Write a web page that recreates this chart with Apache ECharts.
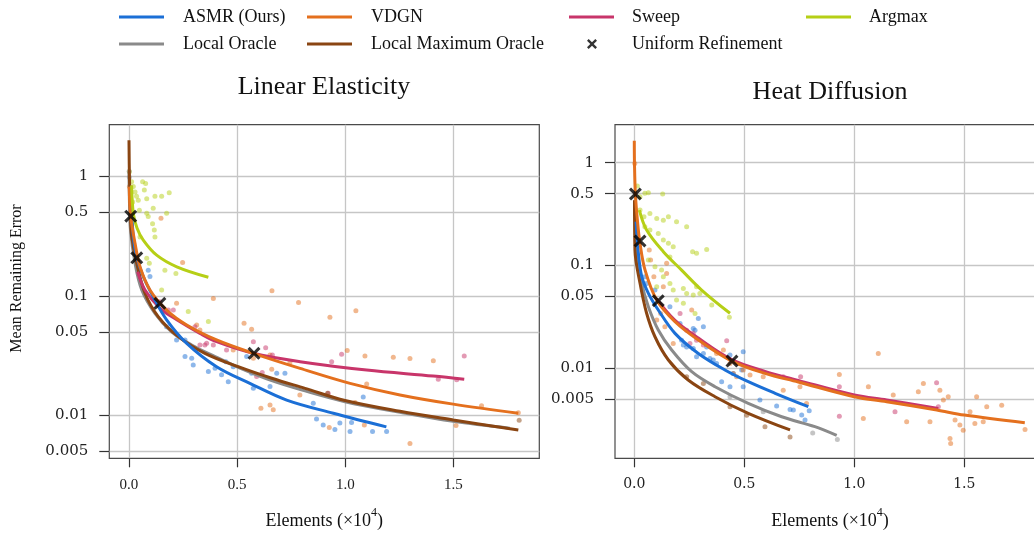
<!DOCTYPE html>
<html><head><meta charset="utf-8">
<script src="https://cdn.jsdelivr.net/npm/echarts@6/dist/echarts.min.js"></script>
<style>html,body{margin:0;padding:0;background:#fff}#c{width:1034px;height:533px}</style>
</head><body><div id="c"></div>
<script>
// ---------- tick labels ----------
const yTickValues = [1, 0.5, 0.1, 0.05, 0.01, 0.005];
const yTickLabels = ['1', '0.5', '0.1', '0.05', '0.01', '0.005'];
const xTickValues = [0, 0.5, 1.0, 1.5];
const xTickLabels = ['0.0', '0.5', '1.0', '1.5'];
const methods = ['ASMR (Ours)', 'VDGN', 'Sweep', 'Argmax', 'Local Oracle', 'Local Maximum Oracle'];
const titles = ['Linear Elasticity', 'Heat Diffusion'];

// ---------- Linear Elasticity: mean curves [elements (x1e4), mean remaining error] ----------
const le_asmr = [[0.008,0.82],[0.02,0.31],[0.036,0.21],[0.066,0.145],[0.112,0.098],[0.174,0.063],[0.267,0.040],[0.405,0.0255],[0.559,0.0185],[0.729,0.0134],[0.945,0.0104],[1.19,0.0080]];
const le_vdgn = [[0.001,0.82],[0.008,0.465],[0.028,0.275],[0.051,0.175],[0.097,0.112],[0.174,0.076],[0.267,0.057],[0.405,0.0427],[0.575,0.033],[0.791,0.0247],[1.022,0.0185],[1.253,0.0148],[1.499,0.0124],[1.80,0.0104]];
const le_sweep = [[0.040,0.159],[0.074,0.112],[0.143,0.079],[0.221,0.063],[0.328,0.0485],[0.405,0.0413],[0.575,0.033],[0.791,0.0281],[1.099,0.0239],[1.407,0.0213],[1.55,0.0200]];
const le_argmax = [[0.012,0.84],[0.02,0.49],[0.037,0.37],[0.066,0.293],[0.128,0.219],[0.221,0.175],[0.367,0.143]];
const le_lo = [[0.0,1.1],[0.002,0.63],[0.007,0.356],[0.028,0.187],[0.059,0.112],[0.12,0.0714],[0.197,0.05],[0.29,0.0388],[0.398,0.031],[0.505,0.0252],[0.66,0.0195],[0.814,0.0160],[0.999,0.0130],[1.253,0.0106],[1.499,0.0089],[1.76,0.0078]];
const le_lmo = [[0.0,2.0],[0.002,1.0],[0.007,0.47],[0.012,0.32],[0.036,0.187],[0.074,0.105],[0.135,0.067],[0.228,0.0455],[0.351,0.033],[0.505,0.0255],[0.66,0.0204],[0.814,0.0168],[0.999,0.0133],[1.253,0.0108],[1.499,0.00914],[1.80,0.00753]];
const le_uniform = [[0.008,0.464],[0.036,0.208],[0.143,0.0865],[0.578,0.033]];

// ---------- Linear Elasticity: individual runs ----------
const le_asmr_runs = [[0.089,0.164],[0.097,0.145],[0.174,0.0552],[0.259,0.0427],[0.259,0.031],[0.297,0.0264],[0.29,0.030],[0.367,0.0232],[0.398,0.0247],[0.428,0.0218],[0.459,0.0191],[0.448,0.0281],[0.482,0.0255],[0.544,0.031],[0.567,0.0225],[0.683,0.0225],[0.721,0.0225],[0.652,0.0174],[0.852,0.0126],[0.867,0.0093],[0.898,0.0083],[0.952,0.0076],[0.975,0.0086],[1.022,0.0073],[1.029,0.0087],[1.083,0.0142],[1.126,0.0073],[1.191,0.0073],[0.575,0.0168],[0.22,0.0427]];
const le_vdgn_runs = [[0.002,0.82],[0.148,0.445],[0.248,0.19],[0.39,0.095],[0.661,0.110],[0.784,0.088],[0.929,0.066],[1.049,0.075],[0.22,0.0865],[0.532,0.059],[0.567,0.0525],[0.482,0.0352],[0.652,0.032],[0.744,0.0276],[0.575,0.030],[0.66,0.0243],[0.61,0.01145],[0.667,0.0111],[0.652,0.0122],[1.091,0.0314],[1.222,0.0306],[1.299,0.0298],[1.407,0.0286],[1.099,0.0183],[1.009,0.0348],[0.79,0.0148],[1.045,0.0128],[1.088,0.0083],[0.926,0.0079],[1.512,0.0082],[1.63,0.012],[1.80,0.0105],[1.299,0.0058],[0.313,0.057],[0.328,0.0518]];
const le_sweep_runs = [[0.305,0.0552],[0.328,0.0388],[0.351,0.0388],[0.39,0.0388],[0.359,0.0401],[0.575,0.0413],[0.632,0.0368],[0.59,0.0211],[0.616,0.0228],[0.663,0.032],[0.983,0.0324],[0.937,0.0281],[1.43,0.020],[1.515,0.0198],[1.55,0.0314],[0.205,0.076],[0.182,0.076],[0.143,0.0893],[0.451,0.0352],[0.921,0.0153]];
const le_argmax_runs = [[0.002,1.09],[0.012,0.90],[0.02,0.82],[0.028,0.74],[0.035,0.68],[0.017,0.61],[0.043,0.63],[0.063,0.90],[0.077,0.87],[0.071,0.77],[0.082,0.65],[0.12,0.68],[0.151,0.68],[0.186,0.73],[0.048,0.52],[0.082,0.49],[0.089,0.46],[0.109,0.40],[0.117,0.356],[0.12,0.31],[0.051,0.31],[0.082,0.206],[0.094,0.187],[0.166,0.164],[0.217,0.154],[0.151,0.112],[0.274,0.074],[0.367,0.061],[0.174,0.49],[0.112,0.54]];
const le_lo_runs = [[0.001,1.1],[0.002,0.98]];
const le_lmo_runs = [[0.918,0.0153],[1.804,0.0091]];

// ---------- Heat Diffusion: mean curves ----------
const hd_asmr = [[0.008,0.267],[0.018,0.135],[0.034,0.0776],[0.064,0.0535],[0.109,0.0368],[0.185,0.0218],[0.291,0.0139],[0.412,0.0096],[0.518,0.00738],[0.64,0.00569],[0.791,0.00421]];
const hd_vdgn = [[0.0,1.64],[0.001,0.95],[0.005,0.496],[0.014,0.277],[0.026,0.164],[0.049,0.090],[0.102,0.046],[0.185,0.0283],[0.291,0.0188],[0.443,0.0117],[0.594,0.0089],[0.745,0.00733],[1.0,0.00527],[1.147,0.00471],[1.375,0.00391],[1.5,0.00349],[1.775,0.00294]];
const hd_sweep = [[0.10,0.0475],[0.185,0.0292],[0.291,0.0196],[0.443,0.0121],[0.594,0.0093],[0.745,0.0076],[1.0,0.00548],[1.147,0.0049],[1.382,0.00405]];
const hd_argmax = [[0.023,0.346],[0.056,0.221],[0.132,0.136],[0.215,0.090],[0.306,0.0576],[0.435,0.0342]];
const hd_lo = [[0.002,0.43],[0.011,0.141],[0.034,0.067],[0.064,0.0396],[0.109,0.0235],[0.17,0.015],[0.261,0.00923],[0.367,0.00659],[0.518,0.00454],[0.67,0.00336],[0.821,0.00269],[0.92,0.00221]];
const hd_lmo = [[0.001,0.43],[0.003,0.141],[0.026,0.067],[0.056,0.0342],[0.094,0.0202],[0.155,0.012],[0.245,0.00766],[0.367,0.00527],[0.518,0.00363],[0.708,0.0025]];
const hd_uniform = [[0.005,0.496],[0.026,0.173],[0.109,0.0453],[0.444,0.0117]];

// ---------- Heat Diffusion: individual runs ----------
const hd_asmr_runs = [[0.048,0.0776],[0.056,0.0668],[0.094,0.0575],[0.162,0.0396],[0.208,0.0272],[0.268,0.0243],[0.314,0.0253],[0.276,0.0234],[0.215,0.0187],[0.238,0.0161],[0.268,0.0155],[0.283,0.0129],[0.314,0.0139],[0.344,0.0124],[0.374,0.0111],[0.435,0.0134],[0.495,0.0144],[0.397,0.00736],[0.435,0.00658],[0.488,0.00957],[0.571,0.00488],[0.647,0.00427],[0.723,0.0039],[0.761,0.00349],[0.776,0.00312],[0.795,0.00384],[0.708,0.00395],[0.291,0.0305],[0.223,0.0168],[0.329,0.0161],[0.359,0.012],[0.45,0.00887],[0.495,0.00658]];
const hd_vdgn_runs = [[0.002,0.985],[0.068,0.141],[0.074,0.113],[0.147,0.105],[0.147,0.0836],[0.089,0.0776],[0.132,0.062],[0.12,0.034],[0.102,0.0294],[0.139,0.0253],[0.261,0.0367],[0.177,0.0174],[0.374,0.0139],[0.405,0.015],[0.435,0.0111],[0.45,0.00887],[0.465,0.00824],[0.495,0.00957],[0.526,0.00855],[0.586,0.00824],[0.677,0.0061],[0.753,0.00658],[0.783,0.00453],[0.932,0.00867],[1.109,0.0139],[1.064,0.00658],[1.177,0.00546],[1.041,0.00324],[1.238,0.003],[1.291,0.00588],[1.314,0.0071],[1.344,0.003],[1.389,0.0061],[1.427,0.00526],[1.435,0.00206],[1.438,0.00185],[1.458,0.00312],[1.48,0.00279],[1.495,0.00249],[1.556,0.00526],[1.548,0.00289],[1.586,0.003],[1.602,0.0042],[1.67,0.00436],[1.776,0.00253],[1.405,0.00488],[1.526,0.00376]];
const hd_sweep_runs = [[0.208,0.034],[0.238,0.0234],[0.268,0.0218],[0.283,0.0187],[0.42,0.0185],[0.677,0.00824],[0.756,0.00824],[0.932,0.00658],[1.185,0.00376],[1.374,0.0072],[1.382,0.0042],[0.932,0.0034],[0.253,0.0174],[0.314,0.0168]];
const hd_argmax_runs = [[0.014,0.593],[0.026,0.467],[0.048,0.503],[0.064,0.51],[0.129,0.495],[0.026,0.346],[0.044,0.298],[0.071,0.321],[0.102,0.287],[0.132,0.276],[0.155,0.298],[0.192,0.266],[0.238,0.238],[0.048,0.238],[0.071,0.221],[0.109,0.205],[0.132,0.177],[0.155,0.164],[0.177,0.152],[0.162,0.121],[0.265,0.136],[0.283,0.131],[0.329,0.143],[0.064,0.113],[0.094,0.097],[0.132,0.0776],[0.162,0.0668],[0.177,0.0575],[0.223,0.0597],[0.238,0.0533],[0.268,0.0514],[0.283,0.062],[0.298,0.0533],[0.352,0.0411],[0.192,0.046],[0.223,0.0427],[0.276,0.034],[0.432,0.0312],[0.102,0.062],[0.124,0.090]];
const hd_lo_runs = [[0.811,0.00234],[0.923,0.00202],[0.435,0.00526],[0.586,0.00376]];
const hd_lmo_runs = [[0.435,0.0042],[0.511,0.00348],[0.594,0.00268],[0.708,0.00214],[0.314,0.0071],[0.238,0.00824]];

// ---------- styles (kept apart from data) ----------
const colors = {
  'ASMR (Ours)': '#1b6fd6',
  'VDGN': '#e4701e',
  'Sweep': '#c8356a',
  'Argmax': '#b6cf16',
  'Local Oracle': '#8a8a8a',
  'Local Maximum Oracle': '#8a4512'
};
const drawOrder = ['Local Oracle', 'Local Maximum Oracle', 'Sweep', 'ASMR (Ours)', 'VDGN', 'Argmax'];
const xPath = 'path://M0,2L2,0L6,4L10,0L12,2L8,6L12,10L10,12L6,8L2,12L0,10L4,6Z';

const plots = [
  { curves: { 'ASMR (Ours)': le_asmr, 'VDGN': le_vdgn, 'Sweep': le_sweep, 'Argmax': le_argmax, 'Local Oracle': le_lo, 'Local Maximum Oracle': le_lmo },
    runs: { 'ASMR (Ours)': le_asmr_runs, 'VDGN': le_vdgn_runs, 'Sweep': le_sweep_runs, 'Argmax': le_argmax_runs, 'Local Oracle': le_lo_runs, 'Local Maximum Oracle': le_lmo_runs },
    uniform: le_uniform },
  { curves: { 'ASMR (Ours)': hd_asmr, 'VDGN': hd_vdgn, 'Sweep': hd_sweep, 'Argmax': hd_argmax, 'Local Oracle': hd_lo, 'Local Maximum Oracle': hd_lmo },
    runs: { 'ASMR (Ours)': hd_asmr_runs, 'VDGN': hd_vdgn_runs, 'Sweep': hd_sweep_runs, 'Argmax': hd_argmax_runs, 'Local Oracle': hd_lo_runs, 'Local Maximum Oracle': hd_lmo_runs },
    uniform: hd_uniform }
];

const toLog = arr => arr.map(p => [p[0], Math.log10(p[1])]);
const yTickLogs = yTickValues.map(v => Math.log10(v));

const layout = [
  { left: 109.3, top: 124.7, width: 430, height: 333.6, xmin: -0.091, xmax: 1.897, ymin: -2.360, ymax: 0.432, xFont: 'Liberation Serif', xSize: 15 },
  { left: 615, top: 124.7, width: 430, height: 333.6, xmin: -0.0877, xmax: 1.8668, ymin: -2.878, ymax: 0.370, xFont: 'DejaVu Serif', xSize: 14 }
];

const grids = layout.map(l => ({ left: l.left, top: l.top, width: l.width, height: l.height, show: true, borderColor: '#4a4a4a', borderWidth: 1.2, backgroundColor: 'transparent', containLabel: false, outerBoundsMode: 'none' }));

const xAxes = layout.map((l, i) => ({
  type: 'value', gridIndex: i, min: l.xmin, max: l.xmax, position: 'bottom',
  name: 'Elements (×10{sup|4})', nameLocation: 'middle', nameGap: 49,
  nameTextStyle: { fontFamily: 'Liberation Serif', fontSize: 18, color: '#111', lineHeight: 28,
    rich: { sup: { fontFamily: 'Liberation Serif', fontSize: 12, lineHeight: 14, color: '#111', verticalAlign: 'top' } } },
  axisLine: { show: false, onZero: false },
  axisTick: { show: true, length: 9, customValues: xTickValues, lineStyle: { color: '#333', width: 1.2 } },
  axisLabel: { customValues: xTickValues, margin: 19, fontFamily: l.xFont, fontSize: l.xSize, color: '#222',
    formatter: v => { const k = xTickValues.findIndex(t => Math.abs(t - v) < 1e-9); return k >= 0 ? xTickLabels[k] : ''; } },
  splitLine: { show: true, lineStyle: { color: '#c6c6c6', width: 1.3 } }
}));

const yAxes = layout.map((l, i) => ({
  type: 'value', gridIndex: i, min: l.ymin, max: l.ymax, position: 'left',
  name: i === 0 ? 'Mean Remaining Error' : '', nameLocation: 'middle', nameRotate: 90, nameGap: 85,
  nameTextStyle: { fontFamily: 'Liberation Serif', fontSize: 16, color: '#111', padding: [0, 0, 0, 26] },
  axisLine: { show: false, onZero: false },
  axisTick: { show: true, length: 10, customValues: yTickLogs, lineStyle: { color: '#333', width: 1.2 } },
  axisLabel: { customValues: yTickLogs, margin: 21, fontFamily: 'DejaVu Serif', fontSize: 15, color: '#222',
    formatter: v => { const k = yTickLogs.findIndex(t => Math.abs(t - v) < 1e-6); return k >= 0 ? yTickLabels[k] : ''; } },
  splitLine: { show: true, lineStyle: { color: '#c6c6c6', width: 1.3 } }
}));

const series = [];
plots.forEach((p, i) => {
  drawOrder.forEach((m, k) => {
    series.push({
      name: m, type: 'line', xAxisIndex: i, yAxisIndex: i, data: toLog(p.curves[m]),
      showSymbol: false, smooth: 0.35, z: 10 + k,
      lineStyle: { color: colors[m], width: 3 }, itemStyle: { color: colors[m] },
      emphasis: { disabled: true }, clip: true
    });
  });
});
plots.forEach((p, i) => {
  methods.forEach(m => {
    series.push({
      name: m, type: 'scatter', xAxisIndex: i, yAxisIndex: i, data: toLog(p.runs[m]),
      symbolSize: 5, z: 3, itemStyle: { color: colors[m], opacity: 0.5 },
      emphasis: { disabled: true }
    });
  });
  series.push({
    name: 'Uniform Refinement', type: 'scatter', xAxisIndex: i, yAxisIndex: i, data: toLog(p.uniform),
    symbol: xPath, symbolSize: 13, z: 30, itemStyle: { color: '#000' }, emphasis: { disabled: true }
  });
});

const legendItems = [
  { name: 'ASMR (Ours)', left: 119, top: 8, pad: 14 },
  { name: 'VDGN', left: 307, top: 8, pad: 14 },
  { name: 'Sweep', left: 569, top: 8, pad: 13 },
  { name: 'Argmax', left: 806, top: 8, pad: 13 },
  { name: 'Local Oracle', left: 119, top: 35, pad: 14 },
  { name: 'Local Maximum Oracle', left: 307, top: 35, pad: 14 },
  { name: 'Uniform Refinement', left: 587, top: 35, pad: 30, marker: true }
];
const legends = legendItems.map(it => ({
  data: [{ name: it.name, icon: it.marker ? xPath : 'rect' }],
  left: it.left, top: it.top, padding: 0, itemGap: 0,
  itemWidth: it.marker ? 10 : 45, itemHeight: it.marker ? 10 : 3,
  selectedMode: false,
  textStyle: { fontFamily: 'Liberation Serif', fontSize: 18, color: '#111', padding: [0, 0, 0, it.pad] }
}));

const option = {
  animation: false,
  backgroundColor: '#fff',
  title: [
    { text: titles[0], left: 324, top: 74, textAlign: 'center', padding: 0, textStyle: { fontFamily: 'Liberation Serif', fontSize: 26, fontWeight: 'normal', color: '#111' } },
    { text: titles[1], left: 830, top: 79, textAlign: 'center', padding: 0, textStyle: { fontFamily: 'Liberation Serif', fontSize: 26, fontWeight: 'normal', color: '#111' } }
  ],
  legend: legends,
  grid: grids,
  xAxis: xAxes,
  yAxis: yAxes,
  series: series
};
const chart = echarts.init(document.getElementById('c'), null, { renderer: 'canvas' });
chart.setOption(option);
</script>
</body></html>
